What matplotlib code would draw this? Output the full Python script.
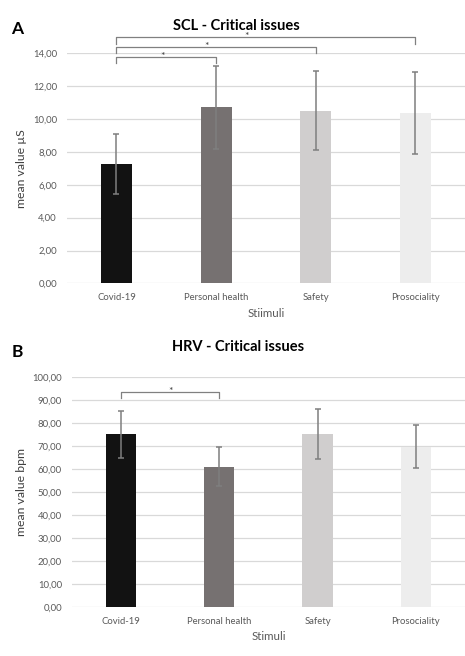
import matplotlib

matplotlib.use("Agg")
import matplotlib.pyplot as plt

plt.rcParams["font.family"] = ["Lato", "DejaVu Sans"]

stimuli = ["Covid-19", "Personal health", "Safety", "Prosociality"]
bar_colors = ["#121212", "#767171", "#d0cece", "#ededed"]

scl_mean = [7.27, 10.72, 10.51, 10.36]
scl_err = [1.80, 2.52, 2.42, 2.50]
scl_ticks = [0, 2, 4, 6, 8, 10, 12, 14]
# significance brackets: (from, to, height, star x)
scl_sig = [(0, 1, 13.79, 0.46), (0, 2, 14.40, 0.90), (0, 3, 15.00, 1.31)]

hrv_mean = [75.0, 61.0, 75.2, 69.7]
hrv_err = [10.3, 8.3, 11.0, 9.5]
hrv_ticks = [0, 10, 20, 30, 40, 50, 60, 70, 80, 90, 100]
hrv_sig = [(0, 1, 93.6, 0.51)]

GRID = "#d9d9d9"
TXT = "#595959"
ERR = "#7f7f7f"


def fmt(v):
    return f"{v:.2f}".replace(".", ",")


def panel(ax, means, errs, ticks, sig, title, letter, ylabel, xlabel, drop,
          title_x, letter_x, title_y):
    x = list(range(len(stimuli)))
    ax.bar(x, means, width=0.31, color=bar_colors, zorder=2)
    ax.errorbar(x, means, yerr=errs, fmt="none", ecolor=ERR, elinewidth=1.1,
                capsize=2, capthick=1.1, zorder=3)
    ax.set_xlim(-0.5, 3.5)
    ax.set_ylim(ticks[0], ticks[-1])
    ax.set_yticks(ticks)
    ax.set_yticklabels([fmt(t) for t in ticks])
    ax.set_xticks(x)
    ax.set_xticklabels(stimuli)
    ax.tick_params(length=0, labelsize=6.8, labelcolor=TXT)
    ax.tick_params(axis="y", pad=7)
    ax.tick_params(axis="x", pad=7)
    for s in ax.spines.values():
        s.set_visible(False)
    ax.grid(True, axis="y", color=GRID, linewidth=0.9, zorder=0)
    ax.set_axisbelow(True)
    ax.set_ylabel(ylabel, fontsize=8.8, color="#404040", labelpad=4)
    ax.set_xlabel(xlabel, fontsize=8.3, color=TXT, labelpad=4)
    ax.text(title_x, title_y, title, transform=ax.transAxes, fontsize=10.5,
            fontweight="bold", ha="center", va="center")
    ax.text(letter_x, 1.107, letter, transform=ax.transAxes, fontsize=12.5,
            fontweight="bold", va="center", ha="left")
    for a, b, h, sx in sig:
        ax.plot([a, a, b, b], [h - drop, h, h, h - drop], color="#808080",
                linewidth=0.9, clip_on=False, zorder=4)
        ax.text(sx, h - drop * 0.38, "*", ha="center", va="baseline",
                fontsize=7.5, color="#404040", clip_on=False)


fig = plt.figure(figsize=(4.65, 6.56), dpi=100)
ax1 = fig.add_axes([0.1434, 0.568, 0.857, 0.3506])
ax2 = fig.add_axes([0.1542, 0.0746, 0.846, 0.3510])

panel(ax1, scl_mean, scl_err, scl_ticks, scl_sig, "SCL - Critical issues", "A",
      "mean value µS", "Stiimuli", 0.40, 0.427, -0.14, 1.12)
panel(ax2, hrv_mean, hrv_err, hrv_ticks, hrv_sig, "HRV - Critical issues", "B",
      "mean value bpm", "Stimuli", 2.9, 0.423, -0.153, 1.13)

fig.savefig("out.png", dpi=100)
